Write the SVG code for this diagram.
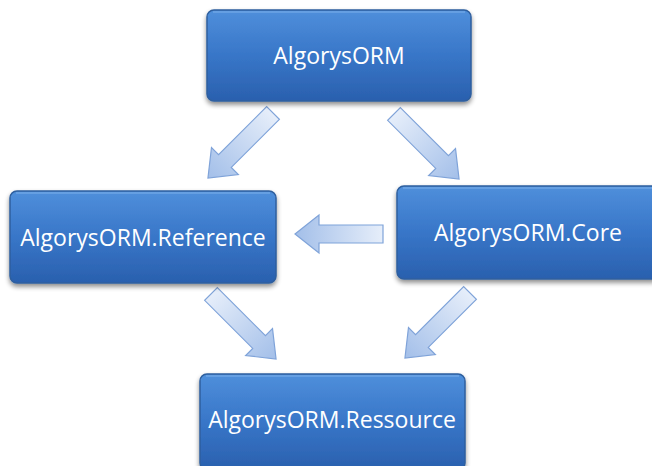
<svg xmlns="http://www.w3.org/2000/svg" width="652" height="466" viewBox="0 0 652 466">
<defs>
<linearGradient id="box" x1="0" y1="0" x2="0" y2="1">
<stop offset="0" stop-color="#4f8fdb"/>
<stop offset="0.5" stop-color="#3876c8"/>
<stop offset="1" stop-color="#2a60ae"/>
</linearGradient>
<linearGradient id="arr" x1="0" y1="0" x2="1" y2="0">
<stop offset="0" stop-color="#e6eefa"/>
<stop offset="1" stop-color="#a3bfe9"/>
</linearGradient>
<filter id="sh" x="-10%" y="-10%" width="120%" height="130%">
<feGaussianBlur in="SourceAlpha" stdDeviation="2.5"/>
<feOffset dx="0" dy="3" result="b"/>
<feComponentTransfer><feFuncA type="linear" slope="0.45"/></feComponentTransfer>
<feMerge><feMergeNode/><feMergeNode in="SourceGraphic"/></feMerge>
</filter>
</defs>
<style>
.box{fill:url(#box);stroke:#2f5f9e;stroke-width:1.5;filter:url(#sh)}
.hl{fill:none;stroke:#8ab8ee;stroke-width:1.2;opacity:0.8}
.lbl{font-family:"Open Sans","Liberation Sans",sans-serif;font-size:23px;fill:#ffffff;text-anchor:middle}
.arrow{fill:url(#arr);stroke:#7fa3d9;stroke-width:1.2}
</style>
<g id="connectors">
<path class="arrow" transform="translate(273,113) rotate(135)" d="M0,-9 L68,-9 L68,-19 L92,0 L68,19 L68,9 L0,9 Z"/>
<path class="arrow" transform="translate(394,114) rotate(45)" d="M0,-9 L68,-9 L68,-19 L92,0 L68,19 L68,9 L0,9 Z"/>
<path class="arrow" transform="translate(383,234) rotate(180)" d="M0,-9 L64,-9 L64,-19 L88,0 L64,19 L64,9 L0,9 Z"/>
<path class="arrow" transform="translate(211,294) rotate(45)" d="M0,-9 L68,-9 L68,-19 L92,0 L68,19 L68,9 L0,9 Z"/>
<path class="arrow" transform="translate(470,293) rotate(135)" d="M0,-9 L68,-9 L68,-19 L92,0 L68,19 L68,9 L0,9 Z"/>
</g>
<g id="n-algorysorm">
<rect class="box" x="207" y="10" width="264" height="91" rx="7"/>
<path class="hl" d="M213,12 H465"/>
<text class="lbl" x="339" y="64">AlgorysORM</text>
</g>
<g id="n-reference">
<rect class="box" x="10" y="191" width="266" height="92" rx="7"/>
<path class="hl" d="M16,193 H270"/>
<text class="lbl" x="143" y="246">AlgorysORM.Reference</text>
</g>
<g id="n-core">
<rect class="box" x="397" y="186" width="262" height="93" rx="7"/>
<path class="hl" d="M403,188 H652"/>
<text class="lbl" x="528" y="241">AlgorysORM.Core</text>
</g>
<g id="n-ressource">
<rect class="box" x="200" y="374" width="265" height="96" rx="7"/>
<path class="hl" d="M206,376 H459"/>
<text class="lbl" x="332" y="428">AlgorysORM.Ressource</text>
</g>
</svg>
